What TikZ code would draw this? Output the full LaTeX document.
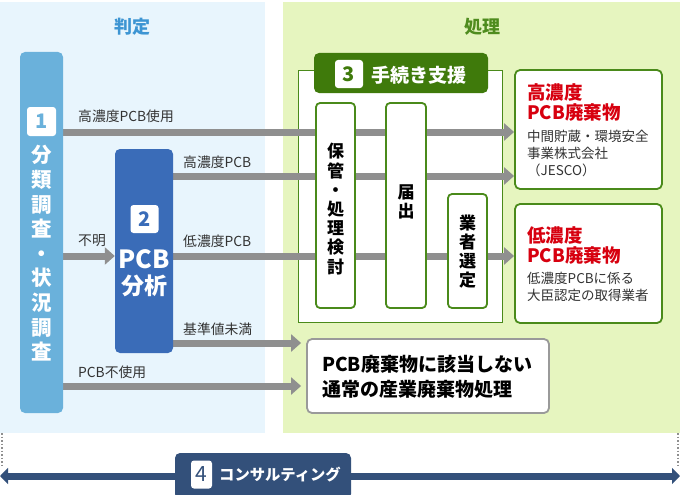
\documentclass[tikz,border=0pt]{standalone}
\usepackage{fontspec}
\setmainfont{Noto Sans CJK JP}
\usetikzlibrary{arrows.meta}
\definecolor{lbg}{HTML}{E8F5FD}
\definecolor{rbg}{HTML}{E6F5BF}
\definecolor{bluet}{HTML}{3D95D3}
\definecolor{greent}{HTML}{4F8C1E}
\definecolor{b1c}{HTML}{6AB1DB}
\definecolor{b2c}{HTML}{3A6CB8}
\definecolor{tabc}{HTML}{3F7A0B}
\definecolor{boxg}{HTML}{4A8A1A}
\definecolor{redt}{HTML}{D7000F}
\definecolor{navy}{HTML}{33507A}
\definecolor{arrg}{HTML}{8F8F8F}
\definecolor{txt}{HTML}{333333}
\pgfdeclarelayer{bg}\pgfdeclarelayer{mid}\pgfsetlayers{bg,mid,main}
\tikzset{
  lbl/.style={font=\fontsize{13.8}{15}\selectfont, text=txt, anchor=west, inner sep=0pt},
  garr/.style={draw=arrg, line width=7pt, -{Triangle[length=10pt,width=17pt]}},
  procbox/.style={draw=boxg, line width=1.8pt, fill=white, rounded corners=4pt, inner sep=0pt},
  vtext/.style={align=center, inner sep=0pt, text=black, font=\fontsize{17}{19.2}\selectfont\bfseries},
  numsq/.style={fill=white, rounded corners=3pt, inner sep=0pt, font=\fontsize{20}{20}\selectfont\bfseries},
  resbox/.style={draw=boxg, line width=1.8pt, fill=white, rounded corners=5pt, inner sep=0pt},
  redtitle/.style={text=redt, anchor=west, inner sep=0pt, font=\fontsize{18.5}{21}\selectfont\bfseries},
  sub/.style={text=txt, anchor=west, inner sep=0pt, align=left, font=\fontsize{13.5}{17}\selectfont},
}
\begin{document}
\begin{tikzpicture}[x=1pt,y=-1pt]
\useasboundingbox (0,0) rectangle (680,495);
\begin{pgfonlayer}{bg}
  \fill[lbg] (0,2) rectangle (265,433);
  \fill[rbg] (283,2) rectangle (680,433);
  \node[draw=boxg, line width=0.8pt, fill=white, minimum width=204pt, minimum height=252pt, inner sep=0pt] (frame) at (400,196) {};
  \draw[arrg, line width=1.5pt, dotted] (2,433) -- (2,468);
  \draw[arrg, line width=1.5pt, dotted] (678,433) -- (678,468);
\end{pgfonlayer}

\node[text=bluet, font=\fontsize{18}{18}\selectfont\bfseries] (t1) at (132,27) {判定};
\node[text=greent, font=\fontsize{18}{18}\selectfont\bfseries] (t2) at (482,27) {処理};

% box 1
\node[fill=b1c, rounded corners=5pt, minimum width=43pt, minimum height=361pt, inner sep=0pt] (b1) at (41.5,232.5) {};
\node[numsq, text=b1c, minimum width=29pt, minimum height=29pt] (n1) at (41.5,121.5) {1};
\node[align=center, inner sep=0pt, text=white, font=\fontsize{20.5}{24.6}\selectfont\bfseries] (b1t) at (41.5,253.5) {分\\類\\調\\査\\・\\状\\況\\調\\査};

% box 2
\node[fill=b2c, rounded corners=5pt, minimum width=58pt, minimum height=204pt, inner sep=0pt] (b2) at (144,251) {};
\node[numsq, text=b2c, minimum width=28pt, minimum height=28pt] (n2) at (144.5,219) {2};
\node[inner sep=0pt, text=white, font=\fontsize{25}{25}\selectfont\bfseries] (b2a) at (144,259) {PCB};
\node[inner sep=0pt, text=white, font=\fontsize{23}{23}\selectfont\bfseries] (b2b) at (144,286) {分析};

% tab 3
\node[fill=tabc, rounded corners=5pt, minimum width=174pt, minimum height=40pt, inner sep=0pt] (tab) at (401,73) {};
\node[numsq, text=tabc, minimum width=28pt, minimum height=28pt] (n3) at (349,74) {3};
\node[inner sep=0pt, text=white, font=\fontsize{19}{19}\selectfont\bfseries] (tabt) at (419,75) {手続き支援};

% process boxes
\node[procbox, minimum width=39pt, minimum height=205pt] (p1) at (335.5,205.5) {};
\node[vtext] (p1t) at (335.5,209) {保\\管\\・\\処\\理\\検\\討};
\node[procbox, minimum width=40pt, minimum height=205pt] (p2) at (406,205.5) {};
\node[vtext] (p2t) at (406,202) {届\\出};
\node[procbox, minimum width=39pt, minimum height=114pt] (p3) at (467.5,251) {};
\node[vtext] (p3t) at (467.5,251.5) {業\\者\\選\\定};

% result boxes
\node[resbox, minimum width=147pt, minimum height=119pt] (hi) at (588.5,129.5) {};
\node[redtitle] (hia) at (527,92) {高濃度};
\node[redtitle] (hib) at (527,113) {PCB廃棄物};
\node[sub] (hic) at (527,153) {中間貯蔵・環境安全\\事業株式会社\\（JESCO）};

\node[resbox, minimum width=147pt, minimum height=119pt] (lo) at (588.5,263.5) {};
\node[redtitle] (loa) at (527,235) {低濃度};
\node[redtitle] (lob) at (527,256) {PCB廃棄物};
\node[sub] (loc) at (527,286.5) {低濃度PCBに係る\\大臣認定の取得業者};

\node[draw=arrg!90, line width=1.8pt, fill=white, rounded corners=5pt, minimum width=242pt, minimum height=74pt, inner sep=0pt] (nb) at (428,376) {};
\node[anchor=west, align=left, inner sep=0pt, text=black, font=\fontsize{19}{25}\selectfont\bfseries] (nbt) at (322,376.5) {PCB廃棄物に該当しない\\通常の産業廃棄物処理};

% arrows
\begin{pgfonlayer}{mid}
  \draw[garr] (b1.east |- 0,132) -- (hi.west |- 0,132);
  \draw[garr] (b2.east |- 0,176) -- (hi.west |- 0,176);
  \draw[garr] (b1.east |- 0,256) -- (b2.west |- 0,256);
  \draw[garr] (b2.east |- 0,256) -- (lo.west |- 0,256);
  \draw[garr] (b2.east |- 0,343) -- ([xshift=-5pt]nb.west |- 0,343);
  \draw[garr] (b1.east |- 0,386) -- ([xshift=-5pt]nb.west |- 0,386);
\end{pgfonlayer}
\node[lbl] (l1) at (78,116) {高濃度PCB使用};
\node[lbl] (l2) at (183,162) {高濃度PCB};
\node[lbl] (l3) at (78,241) {不明};
\node[lbl] (l4) at (183,241) {低濃度PCB};
\node[lbl] (l5) at (183,329) {基準値未満};
\node[lbl] (l6) at (78,372) {PCB不使用};

% consulting
\coordinate (cl) at (0,476);
\coordinate (cr) at (680,476);
\draw[navy, line width=7pt, {Triangle[length=8pt,width=16pt]}-{Triangle[length=8pt,width=16pt]}] (cl) -- (cr);
\node[fill=navy, rounded corners=5pt, minimum width=176pt, minimum height=46pt, inner sep=0pt] (c4) at (263,476) {};
\node[fill=white, rounded corners=3pt, inner sep=0pt, minimum width=21pt, minimum height=28pt, text=navy, font=\fontsize{21}{21}\selectfont] (n4) at (201.5,474.5) {4};
\node[anchor=west, inner sep=0pt, text=white, font=\fontsize{15.3}{16}\selectfont\bfseries] (c4t) at (219,475) {コンサルティング};
\end{tikzpicture}
\end{document}
